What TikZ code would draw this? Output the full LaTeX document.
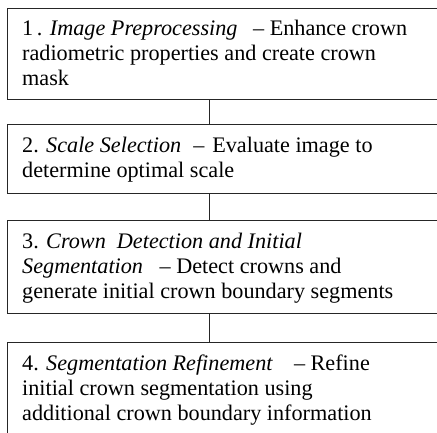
\documentclass[tikz,border=0pt]{standalone}
\usepackage{fontspec}
\setmainfont{Liberation Serif}
\usetikzlibrary{calc}
\tikzset{
  stagebox/.style={draw=black!85, line width=1pt, rectangle, inner sep=0pt, outer sep=0pt, anchor=north west, minimum width=436pt},
  stagetext/.style={anchor=base west, inner sep=0pt, font=\fontsize{22.2}{25}\selectfont},
  link/.style={draw=black!85, line width=1pt}
}
\newcommand{\stlines}[1]{\vtop{\baselineskip=25pt \lineskiplimit=-10pt #1}}
\begin{document}
\begin{tikzpicture}[x=1pt,y=1pt]
\path[use as bounding box, clip] (0,0) rectangle (437,-432);
\fill[white] (0,0) rectangle (437,-432);
\node[stagebox, minimum height=91pt] (b1) at (7,-8) {};
\node[stagebox, minimum height=69pt] (b2) at (7,-124) {};
\node[stagebox, minimum height=93pt] (b3) at (7,-220) {};
\node[stagebox, minimum height=95pt] (b4) at (7,-342) {};
\coordinate (c1) at (209,0);
\draw[link] (b1.south -| c1) -- (b2.north -| c1);
\draw[link] (b2.south -| c1) -- (b3.north -| c1);
\draw[link] (b3.south -| c1) -- (b4.north -| c1);
\node[stagetext] (t1) at ($(b1.north west)+(15,-27.5)$) {\stlines{%
  \hbox{1\,. \textit{Image Preprocessing}\hspace{0.45em} -- Enhance crown}
  \hbox{radiometric properties and create crown}
  \hbox{mask}}};
\node[stagetext] (t2) at ($(b2.north west)+(15,-28)$) {\stlines{%
  \hbox{2. \textit{Scale Selection}\hspace{0.3em} -- \hspace{0.1em}Evaluate image to}
  \hbox{determine optimal scale}}};
\node[stagetext] (t3) at ($(b3.north west)+(15,-28)$) {\stlines{%
  \hbox{3. \textit{Crown\hspace{0.25em} Detection and Initial}}
  \hbox{\textit{Segmentation}\hspace{0.5em} -- Detect crowns and}
  \hbox{generate initial crown boundary segments}}};
\node[stagetext] (t4) at ($(b4.north west)+(15,-28)$) {\stlines{%
  \hbox{4. \textit{Segmentation Refinement}\hspace{0.7em} -- Refine}
  \hbox{initial crown segmentation using}
  \hbox{additional crown boundary information}}};
\end{tikzpicture}
\end{document}
